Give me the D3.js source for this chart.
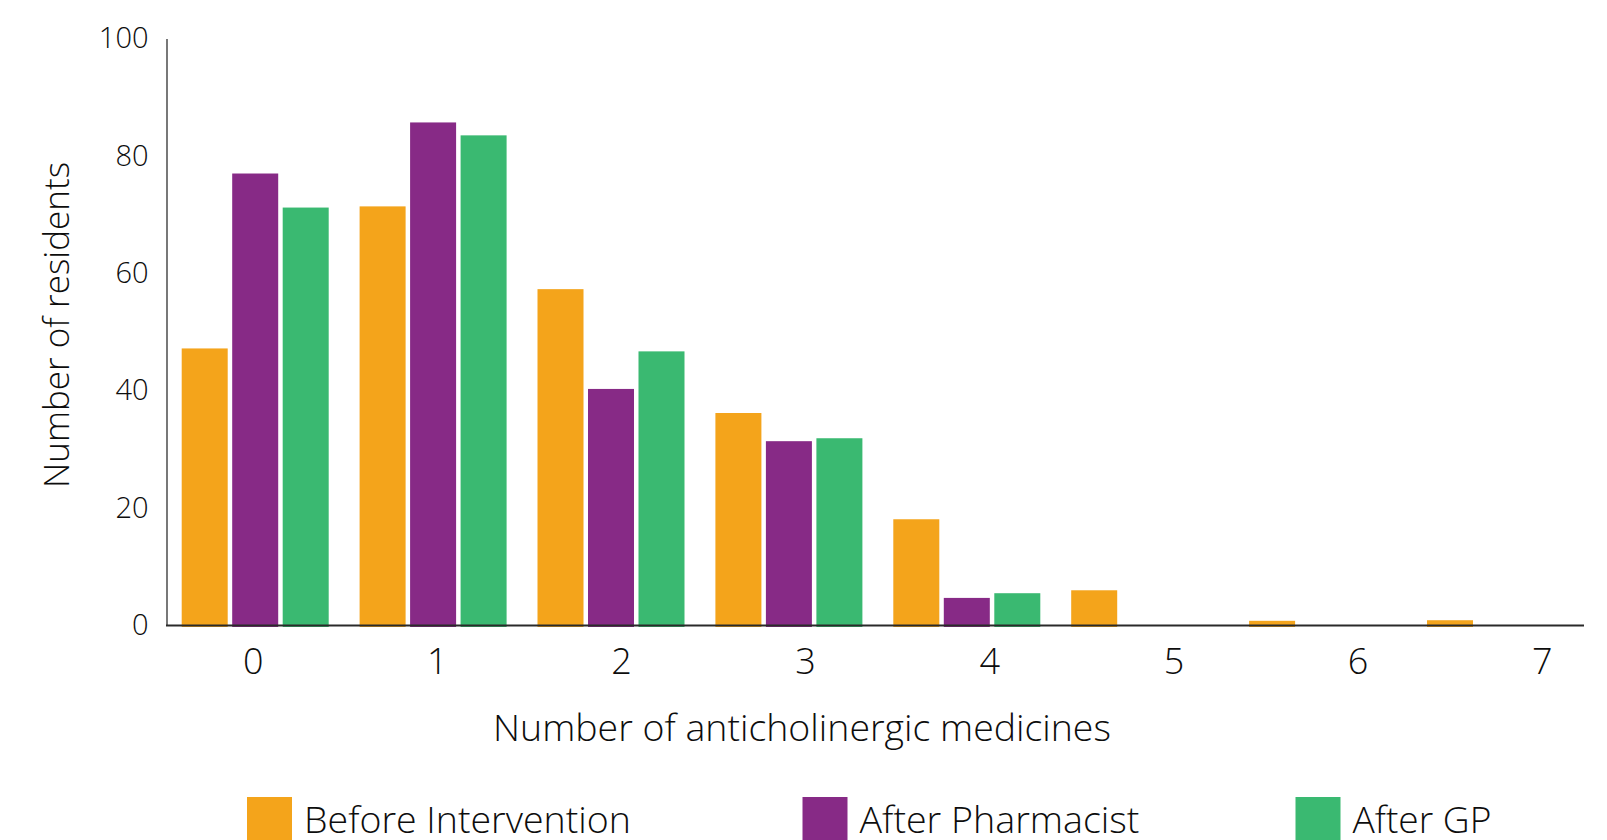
<!DOCTYPE html>
<html>
<head>
<meta charset="utf-8">
<script src="https://cdn.jsdelivr.net/npm/d3@7"></script>
<style>
  html, body { margin: 0; padding: 0; background: #fff; }
  svg { display: block; }
  text { font-family: "Open Sans", "Noto Sans", sans-serif; font-weight: 300; fill: #0d0d0d; }
</style>
</head>
<body>
<svg id="chart" width="1607" height="840"></svg>
<script>
// ---- data ----
const categories = ["0", "1", "2", "3", "4", "5", "6", "7"];
const seriesNames = ["Before Intervention", "After Pharmacist", "After GP"];
const beforeValues = [47.2, 71.4, 57.3, 36.2, 18.1, 6.0, 0.8, 0.9];
const pharmacistValues = [77.0, 85.7, 40.3, 31.4, 4.7, 0, 0, 0];
const gpValues = [71.2, 83.5, 46.7, 31.9, 5.5, 0, 0, 0];
const yTickValues = [0, 20, 40, 60, 80, 100];
const seriesColors = ["#F4A41B", "#872A86", "#3AB971"];
const xTitle = "Number of anticholinergic medicines";
const yTitle = "Number of residents";

const seriesValues = [beforeValues, pharmacistValues, gpValues];

const svg = d3.select("#chart");

// ---- scales ----
const y = d3.scaleLinear().domain([0, 100]).range([625.5, 38.5]);
const xGroup = d3.scaleBand().domain(categories).range([181.7, 1574]).paddingInner(0.1737).paddingOuter(0);
const xInner = d3.scaleBand().domain(seriesNames).range([0, xGroup.bandwidth()]).paddingInner(0.089).paddingOuter(0);
const xTick = d3.scalePoint().domain(categories).range([252.7, 1541.7]);
const color = d3.scaleOrdinal().domain(seriesNames).range(seriesColors);

// ---- bars ----
const rows = [];
categories.forEach((c, i) => {
  seriesNames.forEach((s, j) => {
    rows.push({ cat: c, series: s, value: seriesValues[j][i] });
  });
});

svg.append("g").selectAll("rect")
  .data(rows.filter(d => d.value > 0))
  .join("rect")
  .attr("x", d => xGroup(d.cat) + xInner(d.series))
  .attr("width", xInner.bandwidth())
  .attr("y", d => y(d.value))
  .attr("height", d => y(0) - y(d.value) + 1.5)
  .attr("fill", d => color(d.series));

// ---- y axis ----
const yAxis = svg.append("g")
  .attr("transform", "translate(166.5,0)")
  .call(d3.axisLeft(y).tickValues(yTickValues).tickSize(0).tickSizeOuter(0).tickPadding(18));
yAxis.select(".domain").attr("stroke", "#6a6a6a").attr("stroke-width", 1.8);
yAxis.selectAll("text")
  .style("font-size", "29px")
  .style("font-family", "'Open Sans', 'Noto Sans', sans-serif")
  .style("font-weight", 300)
  .attr("fill", "#0d0d0d");

// ---- x baseline ----
svg.append("line")
  .attr("x1", 166).attr("x2", 1584)
  .attr("y1", y(0)).attr("y2", y(0))
  .attr("stroke", "#2a2a2a").attr("stroke-width", 2);

// ---- x tick labels ----
const xAxis = svg.append("g")
  .attr("transform", `translate(0,${y(0)})`)
  .call(d3.axisBottom(xTick).tickSize(0));
xAxis.select(".domain").remove();
xAxis.selectAll("text")
  .attr("y", 48.5).attr("dy", 0)
  .style("font-size", "36px")
  .style("font-family", "'Open Sans', 'Noto Sans', sans-serif")
  .style("font-weight", 300)
  .attr("fill", "#0d0d0d");

// helper: fit font size to a target width
function fitWidth(sel, target) {
  const node = sel.node();
  const w = node.getComputedTextLength();
  const fs = parseFloat(sel.style("font-size"));
  if (w > 0) sel.style("font-size", (fs * target / w) + "px");
}

// ---- axis titles ----
const xt = svg.append("text")
  .attr("x", 802).attr("y", 741)
  .attr("text-anchor", "middle")
  .style("font-size", "36px")
  .text(xTitle);
fitWidth(xt, 618);

const yt = svg.append("text")
  .attr("transform", "translate(69,325) rotate(-90)")
  .attr("text-anchor", "middle")
  .style("font-size", "30px")
  .text(yTitle);
fitWidth(yt, 326);

// ---- legend ----
const legendX = [247, 802.5, 1295.5];
const legendTextWidth = [327, 280, 139];
const legend = svg.append("g").selectAll("g")
  .data(seriesNames)
  .join("g")
  .attr("transform", (d, i) => `translate(${legendX[i]},0)`);
legend.append("rect")
  .attr("x", 0).attr("y", 797)
  .attr("width", 45).attr("height", 45)
  .attr("fill", d => color(d));
legend.append("text")
  .attr("x", 57).attr("y", 833)
  .style("font-size", "36px")
  .text(d => d)
  .each(function(d, i) { fitWidth(d3.select(this), legendTextWidth[i]); });
</script>
</body>
</html>
